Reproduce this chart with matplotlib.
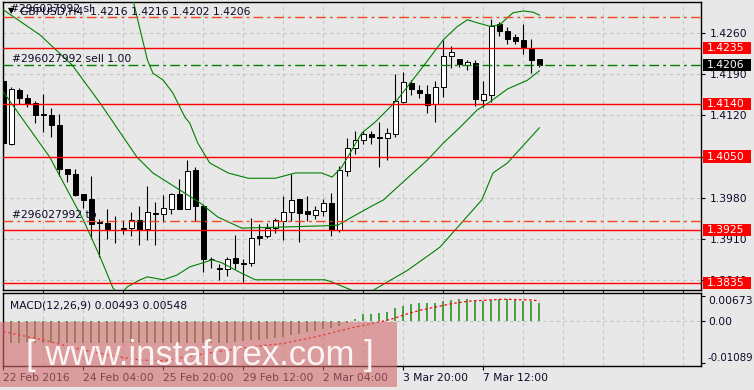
import numpy as np
import matplotlib
matplotlib.use("Agg")
import matplotlib.pyplot as plt
from matplotlib.patches import Rectangle

# GBPUSD H4 candles, 68 bars
opens = [1.4179, 1.4071, 1.4163, 1.4149, 1.4141, 1.4122, 1.4121, 1.4104, 1.4029, 1.4021,
         1.3986, 1.3978, 1.3938, 1.3936, 1.3925, 1.3929, 1.3929, 1.3942, 1.3927, 1.3954,
         1.3952, 1.3961, 1.3986, 1.3961, 1.4027, 1.3966, 1.3875, 1.3860, 1.3858, 1.3877,
         1.3868, 1.3868, 1.3914, 1.3915, 1.3928, 1.3941, 1.3955, 1.3978, 1.3957, 1.3950,
         1.3958, 1.3970, 1.3925, 1.4025, 1.4064, 1.4079, 1.4088, 1.4083, 1.4081, 1.4088,
         1.4143, 1.4175, 1.4163, 1.4156, 1.4139, 1.4168, 1.4221, 1.4217, 1.4206, 1.4210,
         1.4146, 1.4154, 1.4276, 1.4264, 1.4253, 1.4249, 1.4235, 1.4216]
highs = [1.4180, 1.4168, 1.4166, 1.4156, 1.4144, 1.4156, 1.4133, 1.4123, 1.4029, 1.4029,
         1.3986, 1.4017, 1.3944, 1.3961, 1.3949, 1.3942, 1.3955, 1.3965, 1.3999, 1.3972,
         1.3984, 1.3988, 1.4012, 1.4044, 1.4033, 1.3969, 1.3879, 1.3867, 1.3879, 1.3916,
         1.3875, 1.3946, 1.3935, 1.3936, 1.3946, 1.3982, 1.4020, 1.3978, 1.3982, 1.3966,
         1.3977, 1.3988, 1.4034, 1.4081, 1.4094, 1.4094, 1.4094, 1.4108, 1.4098, 1.4191,
         1.4194, 1.4180, 1.4172, 1.4172, 1.4178, 1.4249, 1.4238, 1.4217, 1.4215, 1.4215,
         1.4179, 1.4284, 1.4279, 1.4270, 1.4258, 1.4276, 1.4250, 1.4216]
lows = [1.4057, 1.4069, 1.4139, 1.4134, 1.4107, 1.4091, 1.4084, 1.4016, 1.4007, 1.3983,
        1.3962, 1.3912, 1.3878, 1.3910, 1.3903, 1.3918, 1.3915, 1.3900, 1.3908, 1.3900,
        1.3939, 1.3952, 1.3960, 1.3960, 1.3940, 1.3854, 1.3860, 1.3840, 1.3847, 1.3858,
        1.3837, 1.3864, 1.3900, 1.3912, 1.3920, 1.3908, 1.3940, 1.3905, 1.3941, 1.3944,
        1.3948, 1.3915, 1.3922, 1.4017, 1.4054, 1.4071, 1.4071, 1.4033, 1.4044, 1.4083,
        1.4141, 1.4154, 1.4150, 1.4125, 1.4108, 1.4152, 1.4200, 1.4203, 1.4197, 1.4136,
        1.4134, 1.4143, 1.4255, 1.4242, 1.4242, 1.4224, 1.4193, 1.4202]
closes = [1.4073, 1.4165, 1.4149, 1.4139, 1.4121, 1.4121, 1.4104, 1.4028, 1.4020, 1.3984,
          1.3976, 1.3935, 1.3937, 1.3927, 1.3924, 1.3927, 1.3942, 1.3924, 1.3955, 1.3952,
          1.3962, 1.3987, 1.3961, 1.4025, 1.3965, 1.3875, 1.3876, 1.3858, 1.3876, 1.3868,
          1.3867, 1.3912, 1.3912, 1.3929, 1.3942, 1.3955, 1.3976, 1.3954, 1.3952, 1.3959,
          1.3970, 1.3925, 1.4027, 1.4064, 1.4079, 1.4088, 1.4084, 1.4082, 1.4090, 1.4145,
          1.4177, 1.4165, 1.4158, 1.4138, 1.4168, 1.4221, 1.4228, 1.4207, 1.4211, 1.4148,
          1.4156, 1.4273, 1.4264, 1.4251, 1.4247, 1.4237, 1.4215, 1.4206]

# Bollinger bands (vertices, x in bars)
bb_up_x = [15.0, 16.2, 18.0, 18.7, 20.0, 21.2, 22.7, 23.3, 24.3, 25.8, 28.1, 30.6, 34.0,
           36.5, 39.8, 41.1, 42.3, 44.8, 46.5, 49.2, 52.1, 55.0, 56.7, 58.0, 59.2, 60.8,
           62.0, 63.7, 65.0, 66.2, 67.0]
bb_up_y = [1.4340, 1.4317, 1.4215, 1.4192, 1.4180, 1.4158, 1.4117, 1.4107, 1.4073, 1.4039,
           1.4022, 1.4013, 1.4013, 1.4022, 1.4022, 1.4015, 1.4032, 1.4090, 1.4109, 1.4146,
           1.4197, 1.4249, 1.4271, 1.4283, 1.4278, 1.4272, 1.4274, 1.4295, 1.4298, 1.4296,
           1.4291]
bb_mid_x = [0.0, 4.6, 8.6, 12.1, 16.7, 18.7, 24.6, 26.8, 29.8, 35.2, 40.2, 41.8, 43.6,
            46.1, 47.5, 50.0, 53.0, 55.0, 57.1, 59.2, 60.8, 63.0, 65.5, 67.0]
bb_mid_y = [1.4300, 1.4257, 1.4206, 1.4141, 1.4049, 1.4022, 1.3971, 1.3947, 1.3928, 1.3930,
            1.3932, 1.3933, 1.3947, 1.3966, 1.3976, 1.4007, 1.4044, 1.4073, 1.4100, 1.4129,
            1.4143, 1.4165, 1.4180, 1.4196]
bb_low_x = [0.0, 5.8, 10.0, 12.1, 13.7, 14.6, 15.5, 17.1, 18.0, 20.0, 21.7, 23.3, 25.2,
            26.1, 27.3, 29.8, 31.5, 40.2, 41.1, 43.6, 44.8, 46.2, 50.5, 53.7, 54.6, 59.8,
            61.2, 63.0, 67.0]
bb_low_y = [1.4160, 1.4049, 1.3942, 1.3879, 1.3826, 1.3814, 1.3828, 1.3840, 1.3845, 1.3840,
            1.3848, 1.3862, 1.3870, 1.3874, 1.3869, 1.3851, 1.3840, 1.3840, 1.3836, 1.3822,
            1.3812, 1.3822, 1.3856, 1.3887, 1.3896, 1.3976, 1.4022, 1.4039, 1.4099]

# MACD(12,26,9) main (histogram) and signal
macd = [-0.0045, -0.0056, -0.0056, -0.0053, -0.0057, -0.0057, -0.0057, -0.0058, -0.0058, -0.0058,
        -0.0058, -0.0058, -0.0058, -0.0058, -0.0058, -0.0058, -0.0058, -0.0058, -0.0057, -0.0057,
        -0.0057, -0.0057, -0.0056, -0.0056, -0.0056, -0.0057, -0.0057, -0.0057, -0.0056, -0.0055,
        -0.0052, -0.0050, -0.0049, -0.0047, -0.0044, -0.0041, -0.0037, -0.0032, -0.0028, -0.0024,
        -0.0020, -0.0016, -0.0012, -0.0004, 0.0006, 0.0020, 0.0020, 0.0023, 0.0026, 0.0035,
        0.0042, 0.0046, 0.0048, 0.0048, 0.0050, 0.0054, 0.0057, 0.0059, 0.0059, 0.0057,
        0.0054, 0.0057, 0.0059, 0.0059, 0.0057, 0.0055, 0.0054, 0.00493]
sig_x = [0, 5, 10, 14.2, 17.1, 20, 23, 26.7, 31.2, 35, 39.2, 43.3, 47.1, 48.8, 50, 52.1,
         54.2, 56.2, 58.3, 62.5, 65.8, 67]
sig_y = [-0.0027, -0.0049, -0.0076, -0.0093, -0.0102, -0.0104, -0.0093, -0.0080, -0.0067,
         -0.0058, -0.0040, -0.0018, -0.0001, 0.0008, 0.0017, 0.0030, 0.0039, 0.0048, 0.0054,
         0.0059, 0.0057, 0.00548]

# levels
red_levels = [1.4235, 1.4140, 1.4050, 1.3925, 1.3835]
bid = 1.4206
sl_level = 1.4288
tp_level = 1.3940
order_id = "#296027992"

price_ticks = [1.3840, 1.3910, 1.3980, 1.4050, 1.4120, 1.4190, 1.4260]
date_ticks = [0, 10, 20, 30, 40, 50, 60]
date_labels = ["22 Feb 2016", "24 Feb 04:00", "25 Feb 20:00", "29 Feb 12:00",
               "2 Mar 04:00", "3 Mar 20:00", "7 Mar 12:00"]

BG = "#e8e8e8"
TXT = "#0a0a28"
GRID = "#c4c4c4"
FS = 7.75

W, H = 754, 390
fig = plt.figure(figsize=(W / 100, H / 100), dpi=100, facecolor=BG)
ax = fig.add_axes([3 / W, (H - 290) / H, 698 / W, 288 / H])
ax2 = fig.add_axes([3 / W, (H - 366) / H, 698 / W, 73 / H], sharex=ax)

for a in (ax, ax2):
    a.set_facecolor(BG)
    for s in a.spines.values():
        s.set_color("black")
        s.set_linewidth(1.0)
    a.grid(True, which="both", axis="x", color=GRID, linestyle=(0, (3, 3)), linewidth=0.8)
    a.set_axisbelow(True)

x = np.arange(len(opens))
o = np.array(opens)
c = np.array(closes)

# price panel
ax.set_xlim(-0.04, 87.2)
ax.set_ylim(1.38226, 1.43133)
ax.set_yticks(price_ticks)
ax.set_yticklabels(["%.4f" % p for p in price_ticks])
ax.yaxis.tick_right()
ax.tick_params(axis="y", direction="out", length=3, width=0.8, pad=3, labelsize=FS, labelcolor=TXT)
ax.grid(True, axis="y", color=GRID, linestyle=(0, (3, 3)), linewidth=0.8)
ax.set_xticks(np.arange(0, 88, 5))
ax.tick_params(axis="x", length=0, labelbottom=False)

# candles
ax.vlines(x, lows, highs, color="black", linewidth=0.8, zorder=2)
up = c >= o
ax.bar(x, np.abs(c - o), bottom=np.minimum(o, c), width=0.55,
       color=np.where(up, "white", "black"), edgecolor="black", linewidth=0.7, zorder=2.5)

# bollinger
for bx, by in ((bb_up_x, bb_up_y), (bb_mid_x, bb_mid_y), (bb_low_x, bb_low_y)):
    ax.plot(bx, by, color="#008000", linewidth=0.8, zorder=3)

# horizontal objects
for lv in red_levels:
    ax.axhline(lv, color="red", linewidth=1.0, zorder=4)
ax.axhline(bid, color="#008000", linewidth=1.0, linestyle=(0, (7, 3, 2, 3)), zorder=4)
for lv in (sl_level, tp_level):
    ax.axhline(lv, color="#f04a1a", linewidth=1.0, linestyle=(0, (7, 3, 2, 3)), zorder=4)

ytr = ax.get_yaxis_transform()
ax.annotate(order_id + " sl", (0.010, sl_level), xycoords=ytr, xytext=(0, 2),
            textcoords="offset points", va="bottom", fontsize=FS, color=TXT, zorder=6)
ax.annotate(order_id + " sell 1.00", (0.013, bid), xycoords=ytr, xytext=(0, 1),
            textcoords="offset points", va="bottom", fontsize=FS, color=TXT, zorder=6)
ax.annotate(order_id + " tp", (0.013, tp_level), xycoords=ytr, xytext=(0, 1),
            textcoords="offset points", va="bottom", fontsize=FS, color=TXT, zorder=6)

# price boxes on the right scale
boxes = [(lv, "red") for lv in red_levels] + [(bid, "black")]
for lv, col in boxes:
    ax.add_patch(Rectangle((1.0029, lv - 0.00105), 0.0687, 0.0021, transform=ytr,
                           facecolor=col, edgecolor="none", clip_on=False, zorder=7))
    ax.text(1.0086, lv, "%.4f" % lv, transform=ytr, ha="left", va="center",
            fontsize=FS, color="white", clip_on=False, zorder=8)

# header
fig.text(8 / W, 1 - 11 / H, "\u25bc", fontsize=6, color="black", va="center")
fig.text(20 / W, 1 - 12 / H, "GBPUSD,H4  %.4f %.4f %.4f %.4f" % (opens[-1], highs[-1], lows[-1], closes[-1]),
         fontsize=FS, color=TXT, va="center")

# MACD panel
mac_lo, mac_hi = -0.01179, 0.00755
ax2.set_ylim(mac_lo, mac_hi)
ax2.axhline(0, color=GRID, linestyle=(0, (3, 3)), linewidth=0.8, zorder=1)
ax2.vlines(x, 0, macd, color="#1c8a1c", linewidth=1.1, zorder=2)
ax2.plot(sig_x, sig_y, color="red", linestyle=(0, (2, 2)), linewidth=0.9, zorder=3)
ax2.yaxis.tick_right()
ax2.set_yticks([-0.01089, 0.0, 0.00673])
ax2.set_yticklabels(["-0.01089", "0.00", "0.00673"])
ax2.tick_params(axis="y", direction="out", length=3, width=0.8, pad=2, labelsize=FS, labelcolor=TXT)
tl = ax2.get_yticklabels()
tl[0].set_va("bottom")
tl[0].set_fontsize(7.4)
tl[2].set_va("top")
ax2.set_xticks(date_ticks)
ax2.set_xticklabels(date_labels)
ax2.set_xticks([t for t in range(0, 88, 5) if t not in date_ticks], minor=True)
ax2.tick_params(axis="x", which="major", direction="out", length=3, width=0.8, pad=2,
                labelsize=FS, labelcolor=TXT)
ax2.tick_params(axis="x", which="minor", length=0)
for lbl in ax2.get_xticklabels():
    lbl.set_ha("left")
ax2.text(7 / 698, 1 - 12 / 73, "MACD(12,26,9) %.5f %.5f" % (macd[-1], sig_y[-1]),
         transform=ax2.transAxes, fontsize=FS, color=TXT, va="center")

# watermark
fig.add_artist(Rectangle((0, (H - 387) / H), 397 / W, 65 / H, transform=fig.transFigure,
                         facecolor="#d26a6a", alpha=0.6, edgecolor="none", zorder=5))
fig.text(200 / W, (H - 365) / H, "[ www.instaforex.com ]", ha="center", va="baseline",
         fontsize=25, family="Liberation Sans", color="white", alpha=0.9, zorder=6)

fig.savefig("out.png", dpi=100, facecolor=BG)
